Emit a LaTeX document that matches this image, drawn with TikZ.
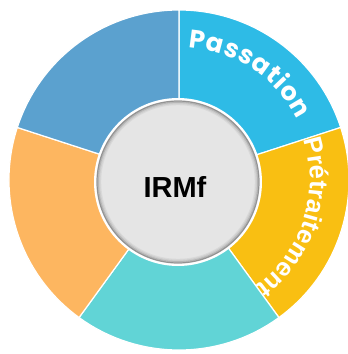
\documentclass[tikz,border=0pt]{standalone}
\usepackage{fontspec}
\setmainfont{Liberation Sans}
\newfontfamily\pasfont{Poppins}
\usepackage{tikz}
\usetikzlibrary{decorations.text}

\definecolor{cPass}{HTML}{2EBBE6}
\definecolor{cPret}{HTML}{F9BF12}
\definecolor{cTeal}{HTML}{61D4D6}
\definecolor{cOrange}{HTML}{FDB660}
\definecolor{cBlue}{HTML}{5BA1CF}
\definecolor{cCore}{HTML}{E5E5E5}

\tikzset{
	seg/.style={draw=white, line width=1.2pt},
	ringtext/.style={decorate, decoration={text along path, text color=white, #1}}
}

\begin{document}
\begin{tikzpicture}
	\def\ro{170pt}
	\def\ri{80pt}
	\def\rc{84pt}
	
	\useasboundingbox (-179pt,-174pt) rectangle (169pt,180pt);
	
	% ring segments
	\filldraw[seg, fill=cPass] (90:\ri) -- (90:\ro) arc[start angle=90, end angle=18, radius=\ro] -- (18:\ri) arc[start angle=18, end angle=90, radius=\ri] -- cycle;
	\filldraw[seg, fill=cPret] (18:\ri) -- (18:\ro) arc[start angle=18, end angle=-54, radius=\ro] -- (-54:\ri) arc[start angle=-54, end angle=18, radius=\ri] -- cycle;
	\filldraw[seg, fill=cTeal] (-54:\ri) -- (-54:\ro) arc[start angle=-54, end angle=-126, radius=\ro] -- (-126:\ri) arc[start angle=-126, end angle=-54, radius=\ri] -- cycle;
	\filldraw[seg, fill=cOrange] (-126:\ri) -- (-126:\ro) arc[start angle=-126, end angle=-198, radius=\ro] -- (-198:\ri) arc[start angle=-198, end angle=-126, radius=\ri] -- cycle;
	\filldraw[seg, fill=cBlue] (162:\ri) -- (162:\ro) arc[start angle=162, end angle=90, radius=\ro] -- (90:\ri) arc[start angle=90, end angle=162, radius=\ri] -- cycle;
	
	% labels on the ring
	\path[ringtext={text={|\pasfont\bfseries\fontsize{25.5}{25.5}\selectfont|Passation}, text align={fit to path}}]
		(86:133pt) arc[start angle=86, end angle=27, radius=133pt];
	\path[ringtext={text={|\bfseries\fontsize{25.5}{25.5}\selectfont|Prétraitement}, text align=center}]
		(22:131pt) arc[start angle=22, end angle=-58, radius=131pt];
	
	% core disc
	\coordinate (O) at (-1pt,-2pt);
	\fill[white] (O) circle[radius=\rc];
	\fill[cCore] (O) circle[radius=81.5pt];
	\draw[black, opacity=.35, line width=1.2pt] (O) circle[radius=81pt];
	\draw[black, opacity=.2, line width=1.2pt] (O) circle[radius=79.8pt];
	\draw[black, opacity=.1, line width=1.2pt] (O) circle[radius=78.6pt];
	\draw[black, opacity=.05, line width=1.2pt] (O) circle[radius=77.4pt];
	
	\node[font=\bfseries\fontsize{29}{29}\selectfont, inner sep=0pt] (C) at (-4pt,-6.5pt) {IRMf};
\end{tikzpicture}
\end{document}
